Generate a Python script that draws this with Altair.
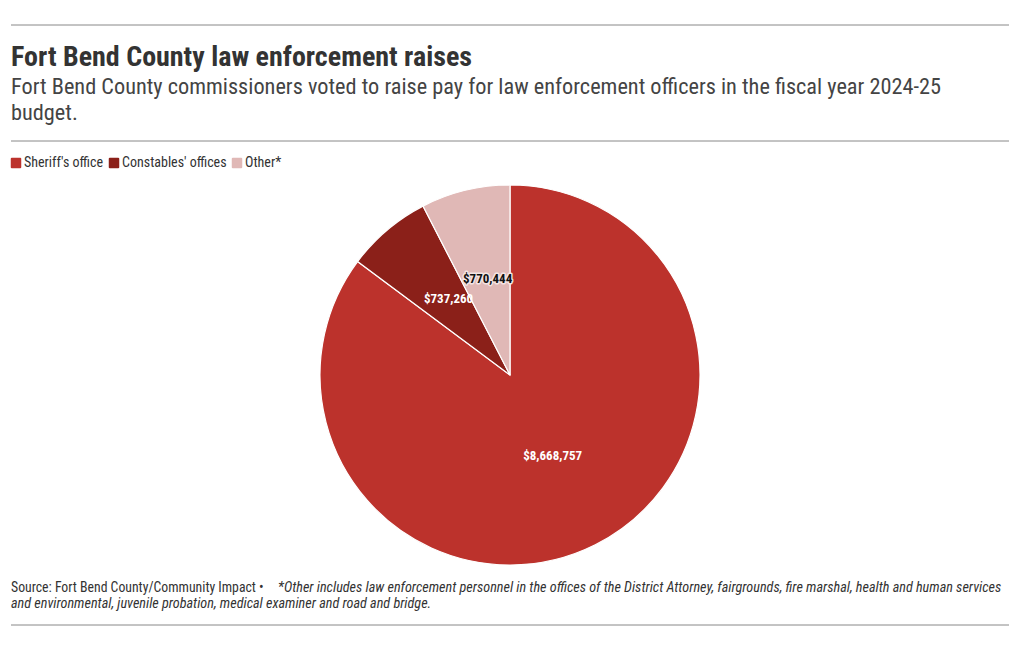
import altair as alt
import pandas as pd

categories = ["Sheriff's office", "Constables' offices", "Other*"]
values = [8668757, 737260, 770444]
colors = ["#bc322c", "#8b2019", "#e0b8b6"]

title = "Fort Bend County law enforcement raises"
subtitle = ["Fort Bend County commissioners voted to raise pay for law enforcement officers in the fiscal year 2024-25", "budget."]
source = "Source: Fort Bend County/Community Impact \u2022 "
note1 = "*Other includes law enforcement personnel in the offices of the District Attorney, fairgrounds, fire marshal, health and human services"
note2 = "and environmental, juvenile probation, medical examiner and road and bridge."

FONT = "Roboto Condensed, Liberation Sans Narrow, Roboto, sans-serif"

df = pd.DataFrame({"category": categories, "value": values, "idx": list(range(len(categories)))})

CX, CY, R = 502, 367, 190

base = alt.Chart(df)
pie = base.mark_arc(radius=R, stroke="white", strokeWidth=1.2).encode(
    theta=alt.Theta("value:Q", stack=True),
    order=alt.Order("idx:Q"),
    color=alt.Color(
        "category:N",
        scale=alt.Scale(domain=categories, range=colors),
        sort=categories,
        legend=alt.Legend(
            title=None, orient="none", legendX=1, legendY=148, direction="horizontal",
            symbolType="M-0.8,-1 L0.8,-1 Q1,-1 1,-0.8 L1,0.8 Q1,1 0.8,1 L-0.8,1 Q-1,1 -1,0.8 L-1,-0.8 Q-1,-1 -0.8,-1 Z",
            symbolSize=110, symbolStrokeWidth=0, symbolOpacity=1,
            labelFont=FONT, labelFontSize=14, labelColor="#333", columnPadding=3, labelOffset=1,
        ),
    ),
    x=alt.value(CX), y=alt.value(CY),
)

halo = base.mark_text(radius=95, font=FONT, fontSize=13, fontWeight="bold", dy=-4,
                      stroke="#f4e4e3", strokeWidth=3, strokeJoin="round").encode(
    theta=alt.Theta("value:Q", stack=True),
    order=alt.Order("idx:Q"),
    text=alt.Text("value:Q", format="$,.0f"),
    opacity=alt.condition(alt.datum.category == "Other*", alt.value(1), alt.value(0)),
    x=alt.value(CX), y=alt.value(CY),
)

labels = base.mark_text(radius=95, font=FONT, fontSize=13, fontWeight="bold", dy=-4).encode(
    theta=alt.Theta("value:Q", stack=True),
    order=alt.Order("idx:Q"),
    text=alt.Text("value:Q", format="$,.0f"),
    color=alt.condition(alt.datum.category == "Other*", alt.value("#111"), alt.value("white")),
    x=alt.value(CX), y=alt.value(CY),
)

def txt(t, x, y, size, weight="normal", style="normal", color="#333"):
    kw = dict(align="left", baseline="alphabetic", font=FONT, fontSize=size, fontWeight=weight, fontStyle=style, color=color)
    return alt.Chart(pd.DataFrame({"t": [t]})).mark_text(**kw).encode(
        text="t:N", x=alt.value(x), y=alt.value(y)
    )

def rule(y):
    return alt.Chart(pd.DataFrame({"a": [0]})).mark_rule(color="#888", strokeWidth=1).encode(
        x=alt.value(3), x2=alt.value(1001), y=alt.value(y)
    )

title_t = txt(title, 3, 58, 28, weight="bold", color="#333")
sub_t = alt.Chart(pd.DataFrame({"a": [0]})).mark_text(
    align="left", baseline="alphabetic", font=FONT, fontSize=22.3, color="#444", lineHeight=26
).encode(text=alt.value(subtitle), x=alt.value(3), y=alt.value(86))
src_t = txt(source, 3, 584, 13.75, color="#333")
n1 = txt(note1, 270, 584, 14.2, style="italic", color="#333")
n2 = txt(note2, 3, 600, 14.2, style="italic", color="#333")

chart = alt.layer(
    rule(17), rule(133), rule(617), title_t, sub_t, pie, halo, labels, src_t, n1, n2
).properties(width=1004, height=634, padding=0, autosize="none").configure_view(stroke=None)

chart.save("out.html", embed_options={"renderer": "svg", "actions": False})
